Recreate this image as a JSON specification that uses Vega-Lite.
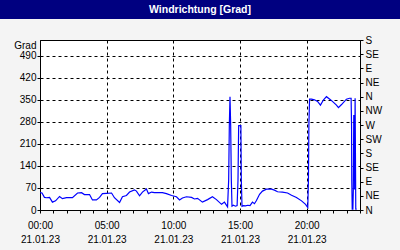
{
  "$schema": "https://vega.github.io/schema/vega-lite/v6.json",
  "autosize": {"type": "pad"},
  "padding": {"top": 0, "left": 0, "right": 0, "bottom": 10},
  "background": "#F4F4F4",
  "spacing": 21,
  "bounds": "flush",
  "center": true,
  "config": {
    "view": {"stroke": null},
    "font": "Liberation Sans",
    "axis": {
      "domainColor": "black",
      "tickColor": "black",
      "labelColor": "black",
      "labelFont": "Liberation Sans",
      "labelFontSize": 10,
      "gridColor": "black",
      "gridDash": [3, 3],
      "tickSize": 3
    }
  },
  "vconcat": [
    {
      "width": 400,
      "height": 19,
      "view": {"fill": "#000080", "stroke": null},
      "data": {"values": [{"titel": "Windrichtung [Grad]"}]},
      "mark": {"type": "text", "color": "white", "fontWeight": "bold", "fontSize": 10.5, "font": "Liberation Sans"},
      "encoding": {"text": {"field": "titel"}}
    },
    {
      "width": 320,
      "height": 170,
      "view": {"stroke": "black", "fill": "white"},
      "data": {"values": [
        {"zeit": "2023-01-21T00:00", "grad": 55},
        {"zeit": "2023-01-21T00:09", "grad": 54},
        {"zeit": "2023-01-21T00:20", "grad": 40},
        {"zeit": "2023-01-21T00:29", "grad": 39},
        {"zeit": "2023-01-21T00:43", "grad": 40},
        {"zeit": "2023-01-21T00:56", "grad": 25},
        {"zeit": "2023-01-21T01:10", "grad": 29},
        {"zeit": "2023-01-21T01:28", "grad": 43},
        {"zeit": "2023-01-21T01:41", "grad": 36},
        {"zeit": "2023-01-21T01:59", "grad": 39},
        {"zeit": "2023-01-21T02:26", "grad": 39},
        {"zeit": "2023-01-21T02:49", "grad": 54},
        {"zeit": "2023-01-21T03:07", "grad": 55},
        {"zeit": "2023-01-21T03:20", "grad": 49},
        {"zeit": "2023-01-21T03:43", "grad": 49},
        {"zeit": "2023-01-21T03:56", "grad": 32},
        {"zeit": "2023-01-21T04:14", "grad": 32},
        {"zeit": "2023-01-21T04:28", "grad": 40},
        {"zeit": "2023-01-21T04:41", "grad": 52},
        {"zeit": "2023-01-21T04:59", "grad": 53},
        {"zeit": "2023-01-21T05:22", "grad": 54},
        {"zeit": "2023-01-21T05:35", "grad": 39},
        {"zeit": "2023-01-21T05:58", "grad": 24},
        {"zeit": "2023-01-21T06:11", "grad": 42},
        {"zeit": "2023-01-21T06:29", "grad": 46},
        {"zeit": "2023-01-21T06:43", "grad": 57},
        {"zeit": "2023-01-21T07:05", "grad": 64},
        {"zeit": "2023-01-21T07:14", "grad": 60},
        {"zeit": "2023-01-21T07:28", "grad": 45},
        {"zeit": "2023-01-21T07:41", "grad": 57},
        {"zeit": "2023-01-21T07:59", "grad": 67},
        {"zeit": "2023-01-21T08:08", "grad": 52},
        {"zeit": "2023-01-21T08:22", "grad": 57},
        {"zeit": "2023-01-21T08:35", "grad": 55},
        {"zeit": "2023-01-21T09:11", "grad": 55},
        {"zeit": "2023-01-21T09:29", "grad": 52},
        {"zeit": "2023-01-21T09:52", "grad": 46},
        {"zeit": "2023-01-21T10:14", "grad": 42},
        {"zeit": "2023-01-21T10:28", "grad": 32},
        {"zeit": "2023-01-21T10:41", "grad": 38},
        {"zeit": "2023-01-21T10:59", "grad": 42},
        {"zeit": "2023-01-21T11:22", "grad": 40},
        {"zeit": "2023-01-21T11:35", "grad": 35},
        {"zeit": "2023-01-21T11:49", "grad": 37},
        {"zeit": "2023-01-21T12:11", "grad": 25},
        {"zeit": "2023-01-21T12:34", "grad": 33},
        {"zeit": "2023-01-21T12:56", "grad": 42},
        {"zeit": "2023-01-21T13:14", "grad": 33},
        {"zeit": "2023-01-21T13:37", "grad": 18},
        {"zeit": "2023-01-21T13:50", "grad": 25},
        {"zeit": "2023-01-21T14:04", "grad": 10},
        {"zeit": "2023-01-21T14:09", "grad": 95},
        {"zeit": "2023-01-21T14:12", "grad": 270},
        {"zeit": "2023-01-21T14:15", "grad": 360},
        {"zeit": "2023-01-21T14:18", "grad": 270},
        {"zeit": "2023-01-21T14:21", "grad": 95},
        {"zeit": "2023-01-21T14:24", "grad": 12},
        {"zeit": "2023-01-21T14:30", "grad": 15},
        {"zeit": "2023-01-21T14:40", "grad": 12},
        {"zeit": "2023-01-21T14:47", "grad": 14},
        {"zeit": "2023-01-21T14:51", "grad": 95},
        {"zeit": "2023-01-21T14:54", "grad": 268},
        {"zeit": "2023-01-21T15:00", "grad": 268},
        {"zeit": "2023-01-21T15:04", "grad": 268},
        {"zeit": "2023-01-21T15:06", "grad": 95},
        {"zeit": "2023-01-21T15:09", "grad": 12},
        {"zeit": "2023-01-21T15:15", "grad": 14},
        {"zeit": "2023-01-21T15:25", "grad": 13},
        {"zeit": "2023-01-21T15:35", "grad": 15},
        {"zeit": "2023-01-21T15:45", "grad": 14},
        {"zeit": "2023-01-21T15:56", "grad": 25},
        {"zeit": "2023-01-21T16:05", "grad": 20},
        {"zeit": "2023-01-21T16:14", "grad": 30},
        {"zeit": "2023-01-21T16:28", "grad": 50},
        {"zeit": "2023-01-21T16:41", "grad": 60},
        {"zeit": "2023-01-21T16:59", "grad": 66},
        {"zeit": "2023-01-21T17:22", "grad": 66},
        {"zeit": "2023-01-21T17:35", "grad": 63},
        {"zeit": "2023-01-21T17:49", "grad": 58},
        {"zeit": "2023-01-21T18:11", "grad": 57},
        {"zeit": "2023-01-21T18:34", "grad": 54},
        {"zeit": "2023-01-21T18:52", "grad": 47},
        {"zeit": "2023-01-21T19:14", "grad": 40},
        {"zeit": "2023-01-21T19:37", "grad": 29},
        {"zeit": "2023-01-21T19:55", "grad": 18},
        {"zeit": "2023-01-21T20:05", "grad": 8},
        {"zeit": "2023-01-21T20:08", "grad": 95},
        {"zeit": "2023-01-21T20:10", "grad": 270},
        {"zeit": "2023-01-21T20:13", "grad": 352},
        {"zeit": "2023-01-21T20:22", "grad": 352},
        {"zeit": "2023-01-21T20:35", "grad": 350},
        {"zeit": "2023-01-21T20:49", "grad": 345},
        {"zeit": "2023-01-21T21:02", "grad": 333},
        {"zeit": "2023-01-21T21:16", "grad": 350},
        {"zeit": "2023-01-21T21:29", "grad": 360},
        {"zeit": "2023-01-21T21:47", "grad": 350},
        {"zeit": "2023-01-21T21:56", "grad": 345},
        {"zeit": "2023-01-21T22:14", "grad": 333},
        {"zeit": "2023-01-21T22:23", "grad": 325},
        {"zeit": "2023-01-21T22:37", "grad": 335},
        {"zeit": "2023-01-21T22:46", "grad": 342},
        {"zeit": "2023-01-21T22:59", "grad": 352},
        {"zeit": "2023-01-21T23:13", "grad": 355},
        {"zeit": "2023-01-21T23:20", "grad": 355},
        {"zeit": "2023-01-21T23:22", "grad": 268},
        {"zeit": "2023-01-21T23:23", "grad": 95},
        {"zeit": "2023-01-21T23:25", "grad": 3},
        {"zeit": "2023-01-21T23:28", "grad": 3},
        {"zeit": "2023-01-21T23:30", "grad": 65},
        {"zeit": "2023-01-21T23:32", "grad": 300},
        {"zeit": "2023-01-21T23:34", "grad": 300},
        {"zeit": "2023-01-21T23:36", "grad": 65},
        {"zeit": "2023-01-21T23:38", "grad": 355},
        {"zeit": "2023-01-21T23:41", "grad": 3},
        {"zeit": "2023-01-21T23:45", "grad": 3}
      ]},
      "layer": [
        {
          "mark": {"type": "line", "color": "#0000FF", "strokeWidth": 1.2, "clip": true},
          "encoding": {
            "x": {
              "field": "zeit", "type": "temporal",
              "scale": {"domain": [{"year": 2023, "month": 1, "date": 21, "hours": 0}, {"year": 2023, "month": 1, "date": 22, "hours": 0}], "nice": false},
              "axis": {
                "title": null,
                "tickCount": 24,
                "labelExpr": "hours(datum.value) % 5 == 0 && date(datum.value) == 21 ? [timeFormat(datum.value, '%H:%M'), timeFormat(datum.value, '%d.%m.%y')] : ''",
                "grid": true,
                "gridOpacity": {"condition": {"test": "hours(datum.value) % 5 == 0", "value": 1}, "value": 0},
                "labelPadding": 7,
                "labelLineHeight": 14,
                "labelOverlap": false,
                "labelBound": false,
                "labelFlush": false,
                "labelAlign": "center"
              }
            },
            "y": {
              "field": "grad", "type": "quantitative",
              "scale": {"domain": [0, 540], "nice": false},
              "axis": {
                "title": "Grad",
                "values": [0, 70, 140, 210, 280, 350, 420, 490],
                "grid": true,
                "labelPadding": 1,
                "titleAngle": 0,
                "titleAlign": "right",
                "titleBaseline": "middle",
                "titleX": -4,
                "titleY": 5,
                "titleFontWeight": "normal",
                "titleFontSize": 10,
                "titleFont": "Liberation Sans",
                "titleColor": "black"
              }
            }
          }
        },
        {
          "mark": {"type": "line", "opacity": 0},
          "encoding": {
            "x": {"field": "zeit", "type": "temporal"},
            "y": {
              "field": "grad", "type": "quantitative",
              "axis": {
                "orient": "right",
                "title": null,
                "values": [0, 45, 90, 135, 180, 225, 270, 315, 360, 405, 450, 495, 540],
                "labelExpr": "['N','NE','E','SE','S','SW','W','NW'][round(datum.value / 45) % 8]",
                "grid": false,
                "labelPadding": 2
              }
            }
          }
        }
      ],
      "resolve": {"axis": {"y": "independent"}}
    }
  ]
}
